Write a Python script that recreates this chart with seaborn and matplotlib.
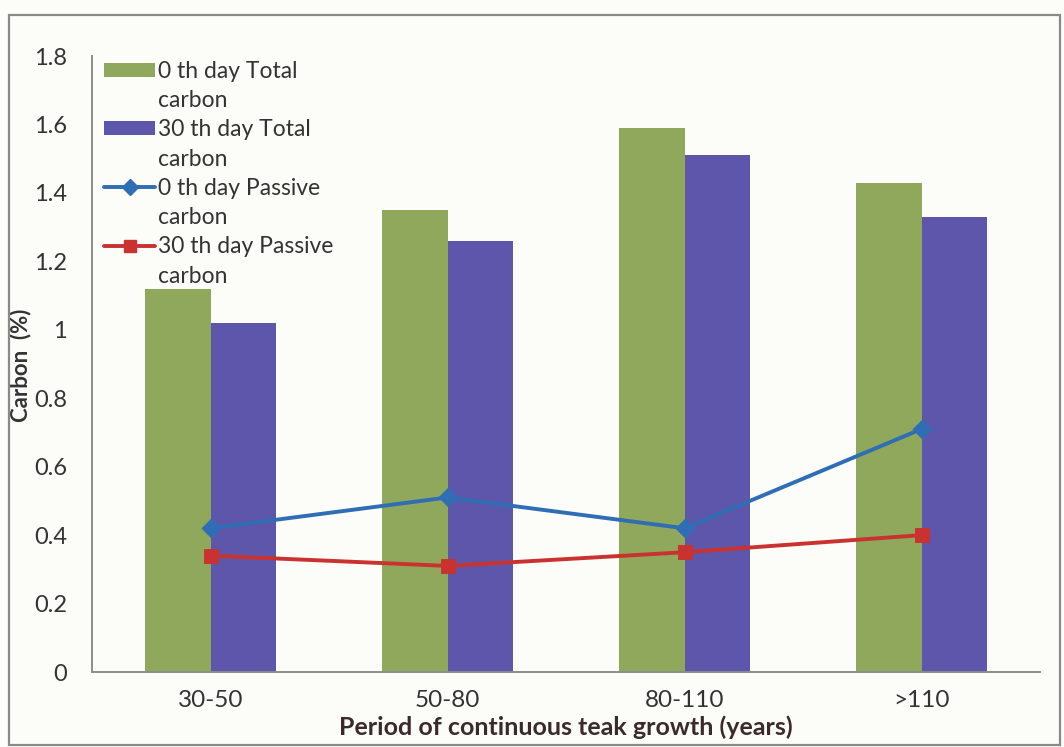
import matplotlib
matplotlib.use("Agg")
import matplotlib.pyplot as plt
from matplotlib.patches import Patch, Rectangle
from matplotlib.lines import Line2D
from matplotlib.ticker import FuncFormatter, FixedLocator
import seaborn as sns
import pandas as pd

# ---- data -------------------------------------------------------------
periods = ["30-50", "50-80", "80-110", ">110"]
total_c_day0 = [1.12, 1.35, 1.59, 1.43]
total_c_day30 = [1.02, 1.26, 1.51, 1.33]
passive_c_day0 = [0.42, 0.51, 0.42, 0.71]
passive_c_day30 = [0.34, 0.31, 0.35, 0.40]

bar_names = ["0 th day Total carbon", "30 th day Total carbon"]
line_names = ["0 th day Passive carbon", "30 th day Passive carbon"]
legend_rows = [
    ("0 th day Total", "carbon"),
    ("30 th day Total", "carbon"),
    ("0 th day Passive", "carbon"),
    ("30 th day Passive", "carbon"),
]
y_ticks = [0, 0.2, 0.4, 0.6, 0.8, 1.0, 1.2, 1.4, 1.6, 1.8]

bars_df = pd.DataFrame({
    "period": periods * 2,
    "series": [bar_names[0]] * 4 + [bar_names[1]] * 4,
    "value": total_c_day0 + total_c_day30,
})
lines_df = pd.DataFrame({
    "period": periods * 2,
    "series": [line_names[0]] * 4 + [line_names[1]] * 4,
    "value": passive_c_day0 + passive_c_day30,
})

# ---- style ------------------------------------------------------------
sns.set_style("white")
plt.rcParams["font.family"] = ["Lato", "DejaVu Sans"]

green = "#8FA85C"
purple = "#5E56AA"
blue = "#2F6DB5"
red = "#C9322F"
text_col = "#333333"
bg = "#FCFCF9"

fig = plt.figure(figsize=(10.64, 7.47), dpi=100, facecolor=bg)
ax = fig.add_axes([0.0865, 0.1004, 0.891, 0.8246], facecolor=bg)

# outer chart frame
fig.patches.append(Rectangle((0.008, 0.003), 0.988, 0.977, transform=fig.transFigure,
                             fill=False, edgecolor="#8A8A8A", linewidth=1.6))

sns.barplot(data=bars_df, x="period", y="value", hue="series", order=periods,
            hue_order=bar_names, palette=[green, purple], width=0.55, gap=0,
            saturation=1, errorbar=None, legend=False, ax=ax, linewidth=0)

sns.pointplot(data=lines_df, x="period", y="value", hue="series", order=periods,
              hue_order=line_names, palette=[blue, red], markers=["D", "s"],
              linestyles=["-", "-"], dodge=False, errorbar=None, legend=False,
              ax=ax, markersize=8, linewidth=2.8)

ax.set_xlim(-0.5, 3.5)
ax.set_ylim(0, 1.8)

# axes, ticks
for s in ["top", "right"]:
    ax.spines[s].set_visible(False)
for s in ["left", "bottom"]:
    ax.spines[s].set_color("#8C8C8C")
    ax.spines[s].set_linewidth(1.4)

ax.yaxis.set_major_locator(FixedLocator(y_ticks))
ax.yaxis.set_major_formatter(FuncFormatter(lambda v, p: f"{v:g}"))
ax.tick_params(axis="y", direction="out", length=8, width=1.2, color="#9A9A9A",
               labelsize=17, labelcolor=text_col, pad=10)
ax.tick_params(axis="x", which="major", length=0, labelsize=17.5,
               labelcolor=text_col, pad=13)
ax.xaxis.set_minor_locator(FixedLocator([-0.5, 0.5, 1.5, 2.5, 3.5]))
ax.tick_params(axis="x", which="minor", direction="out", length=8, width=1.2,
               color="#9A9A9A")

ax.set_xlabel("Period of continuous teak growth (years)", fontsize=18,
              fontweight="bold", color="#3B2A2A", labelpad=3)
ax.set_ylabel("Carbon  (%)", fontsize=16, fontweight="bold", color=text_col)
ax.yaxis.set_label_coords(-0.064, 0.498)

# legend: first line carries the key, wrapped word sits on its own row
blank = Line2D([], [], linestyle="none")
handles = [
    Patch(facecolor=green, edgecolor="none"), blank,
    Patch(facecolor=purple, edgecolor="none"), blank,
    Line2D([], [], color=blue, marker="D", lw=2.8, ms=8), blank,
    Line2D([], [], color=red, marker="s", lw=2.8, ms=8), blank,
]
labels = [t for pair in legend_rows for t in pair]
ax.legend(handles, labels, loc="upper left", bbox_to_anchor=(0.013, 0.992),
          frameon=False, fontsize=16.5, labelspacing=0.36, handlelength=2.2,
          handleheight=0.55, handletextpad=0.12, borderpad=0, borderaxespad=0,
          labelcolor=text_col)

fig.savefig("out.png", dpi=100, facecolor=bg)
